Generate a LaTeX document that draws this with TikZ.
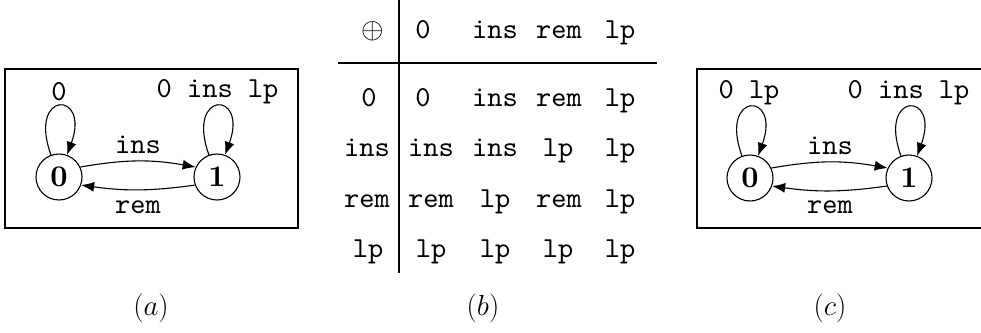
\RequirePackage{fix-cm}
\documentclass[tikz,border=0pt]{standalone}
\usepackage{fontspec}
\setmonofont{lmmono10-regular.otf}
\newfontfamily\bfdigits{lmroman10-bold.otf}
\usetikzlibrary{arrows.meta}
\begin{document}
\begin{tikzpicture}[x=1pt,y=-1pt,
  every node/.style={font=\fontsize{29}{34}\selectfont},
  tt/.style={font=\fontsize{29}{34}\selectfont\ttfamily, inner sep=0pt, anchor=base},
  captext/.style={font=\fontsize{29}{34}\selectfont, inner sep=0pt, anchor=base},
  state/.style={circle, draw, line width=1.1pt, minimum size=46pt, inner sep=0pt, font=\fontsize{30}{34}\selectfont\bfdigits},
  edge/.style={line width=1.1pt, -{Latex[length=13pt,width=10pt]}},
  frame/.style={line width=1.1pt},
  rulestyle/.style={line width=1.8pt}]
\useasboundingbox (0,0) rectangle (981,332);

% ---------- panel (a) ----------
\draw[frame] (5,69) rectangle (298,228);
\node[state] (a0) at (59,177) {0};
\node[state] (a1) at (217,177) {1};
\draw[edge] (a0.110) .. controls +(110:69pt) and +(70:69pt) .. (a0.70);
\draw[edge] (a1.110) .. controls +(110:69pt) and +(70:69pt) .. (a1.70);
\draw[edge] (a0.25) to[bend left=10] (a1.155);
\draw[edge] (a1.200) to[bend left=8] (a0.340);
\node[tt] (la0) at (59,100) {0};
\node[tt] (la1) at (217.5,97) {0 ins lp};
\node[tt] (lains) at (138,153) {ins};
\node[tt] (larem) at (138,213) {rem};
\node[captext] (capa) at (151,315) {$(a)$};

% ---------- panel (b) ----------
\coordinate (vt) at (399,0);
\coordinate (vb) at (399,273);
\coordinate (hl) at (338,63);
\coordinate (hr) at (657,63);
\draw[rulestyle] (vt) -- (vb);
\draw[rulestyle] (hl) -- (hr);
\node (op) at (373,31) {$\oplus$};
\node[tt] (h1) at (423,38) {0};
\node[tt] (h2) at (495,38) {ins};
\node[tt] (h3) at (559,38) {rem};
\node[tt] (h4) at (620,38) {lp};
% row 0
\node[tt] (r0) at (369,106) {0};
\node[tt] (r0c1) at (423,106) {0};
\node[tt] (r0c2) at (495,106) {ins};
\node[tt] (r0c3) at (559,106) {rem};
\node[tt] (r0c4) at (620,106) {lp};
% row ins
\node[tt] (r1) at (367,156) {ins};
\node[tt] (r1c1) at (431,156) {ins};
\node[tt] (r1c2) at (495,156) {ins};
\node[tt] (r1c3) at (558,156) {lp};
\node[tt] (r1c4) at (620,156) {lp};
% row rem
\node[tt] (r2) at (367,207) {rem};
\node[tt] (r2c1) at (431,207) {rem};
\node[tt] (r2c2) at (495,207) {lp};
\node[tt] (r2c3) at (559,207) {rem};
\node[tt] (r2c4) at (620,207) {lp};
% row lp
\node[tt] (r3) at (368,257) {lp};
\node[tt] (r3c1) at (431,257) {lp};
\node[tt] (r3c2) at (495,257) {lp};
\node[tt] (r3c3) at (558,257) {lp};
\node[tt] (r3c4) at (620,257) {lp};
\node[captext] (capb) at (483,315) {$(b)$};

% ---------- panel (c) ----------
\draw[frame] (697,69) rectangle (995,228);
\node[state] (c0) at (750,178) {0};
\node[state] (c1) at (909,178) {1};
\draw[edge] (c0.110) .. controls +(110:69pt) and +(70:69pt) .. (c0.70);
\draw[edge] (c1.110) .. controls +(110:69pt) and +(70:69pt) .. (c1.70);
\draw[edge] (c0.25) to[bend left=10] (c1.155);
\draw[edge] (c1.200) to[bend left=8] (c0.340);
\node[tt] (lc0) at (749,98) {0 lp};
\node[tt] (lc1) at (908.5,98) {0 ins lp};
\node[tt] (lcins) at (830,154) {ins};
\node[tt] (lcrem) at (830,213) {rem};
\node[captext] (capc) at (830,315) {$(c)$};
\end{tikzpicture}
\end{document}
